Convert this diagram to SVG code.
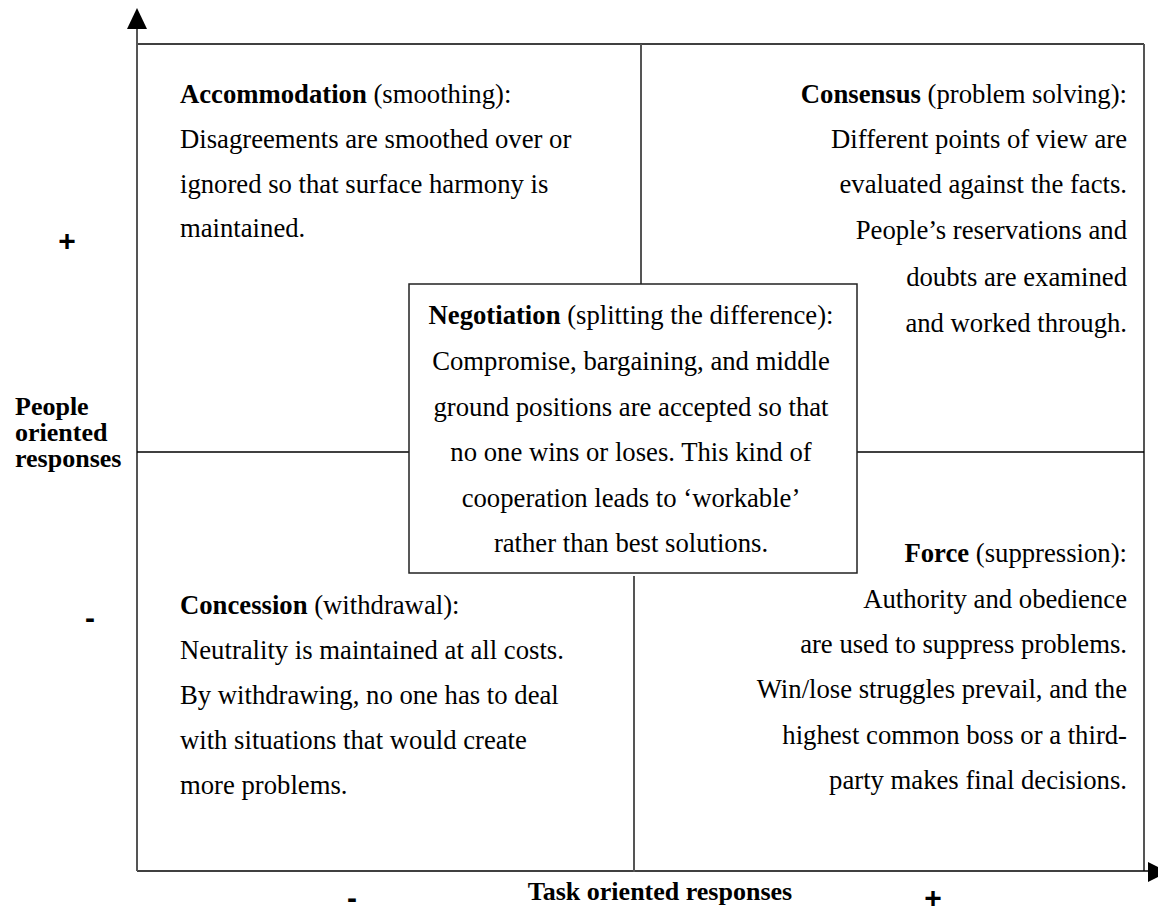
<svg xmlns="http://www.w3.org/2000/svg" width="1158" height="914" viewBox="0 0 1158 914">
<style>
text{font-family:"Liberation Serif","Times New Roman",serif;font-size:26.7px;fill:#000}
.b{font-weight:bold}
.r{text-anchor:end}
.c{text-anchor:middle}
.lab{font-size:26px;font-weight:bold}
.pm{font-family:"Liberation Sans",Arial,sans-serif;font-size:30px;font-weight:bold;text-anchor:middle}
.ax{stroke:#555;stroke-width:2;fill:none}
.ln{stroke:#000;stroke-width:1.5;fill:none}
.gl{stroke:#555;stroke-width:2;fill:none}
</style>
<rect width="1158" height="914" fill="#fff"/>
<g id="connectors">
<line class="ln" x1="137" y1="44" x2="1144" y2="44"/>
<line class="gl" x1="1144" y1="44" x2="1144" y2="871"/>
<line class="ln" x1="137" y1="871" x2="1150" y2="871"/>
<line class="ax" x1="137" y1="28" x2="137" y2="871"/>
<line class="gl" x1="641" y1="44" x2="641" y2="284"/>
<line class="gl" x1="634" y1="576" x2="634" y2="872"/>
<line class="ln" x1="137" y1="452" x2="409" y2="452"/>
<line class="ln" x1="857" y1="452" x2="1144" y2="452"/>
<polygon points="137,8 127,29 147,29" fill="#000"/>
<polygon points="1148,862 1168,872 1148,882" fill="#000"/>
</g>
<g id="accommodation">
<text x="180" y="103"><tspan class="b">Accommodation</tspan> (smoothing):</text>
<text x="180" y="148">Disagreements are smoothed over or</text>
<text x="180" y="193">ignored so that surface harmony is</text>
<text x="180" y="237">maintained.</text>
</g>
<g id="consensus">
<text class="r" x="1127" y="103"><tspan class="b">Consensus</tspan> (problem solving):</text>
<text class="r" x="1127" y="148">Different points of view are</text>
<text class="r" x="1127" y="193">evaluated against the facts.</text>
<text class="r" x="1127" y="239">People’s reservations and</text>
<text class="r" x="1127" y="286">doubts are examined</text>
<text class="r" x="1127" y="332">and worked through.</text>
</g>
<g id="negotiation">
<rect x="409" y="284" width="448" height="289" fill="#fff" stroke="#222" stroke-width="1.5"/>
<text class="c" x="631" y="324"><tspan class="b">Negotiation</tspan> (splitting the difference):</text>
<text class="c" x="631" y="370">Compromise, bargaining, and middle</text>
<text class="c" x="631" y="416">ground positions are accepted so that</text>
<text class="c" x="631" y="461">no one wins or loses. This kind of</text>
<text class="c" x="631" y="507">cooperation leads to ‘workable’</text>
<text class="c" x="631" y="552">rather than best solutions.</text>
</g>
<g id="concession">
<text x="180" y="614"><tspan class="b">Concession</tspan> (withdrawal):</text>
<text x="180" y="659">Neutrality is maintained at all costs.</text>
<text x="180" y="704">By withdrawing, no one has to deal</text>
<text x="180" y="749">with situations that would create</text>
<text x="180" y="794">more problems.</text>
</g>
<g id="force">
<text class="r" x="1127" y="562"><tspan class="b">Force</tspan> (suppression):</text>
<text class="r" x="1127" y="608">Authority and obedience</text>
<text class="r" x="1127" y="653">are used to suppress problems.</text>
<text class="r" x="1127" y="698">Win/lose struggles prevail, and the</text>
<text class="r" x="1127" y="744">highest common boss or a third-</text>
<text class="r" x="1127" y="789">party makes final decisions.</text>
</g>
<g id="people-axis">
<text class="lab" x="15" y="415">People</text>
<text class="lab" x="15" y="441">oriented</text>
<text class="lab" x="15" y="467">responses</text>
<text class="pm" x="67" y="251">+</text>
<text class="pm" x="90" y="628">-</text>
</g>
<g id="task-axis">
<text class="lab c" x="660" y="900">Task oriented responses</text>
<text class="pm" x="352" y="908">-</text>
<text class="pm" x="933" y="908">+</text>
</g>
</svg>
